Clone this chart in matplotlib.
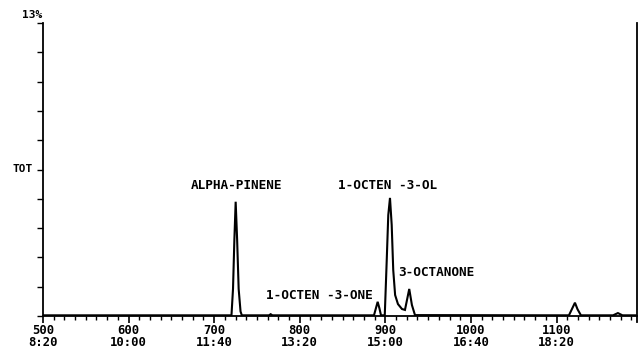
import matplotlib
matplotlib.use("Agg")
import matplotlib.pyplot as plt
import numpy as np

# Chromatogram trace (scan number, % of total)
scan = [500, 720.2, 722.0, 723.6, 725.1, 726.8, 728.6, 730.8, 732.3,
        764, 766, 768,
        886.7, 889.0, 891.0, 893.0, 894.9,
        899.3, 901.6, 903.4, 905.4, 907.4, 909.2, 911.4, 914.7, 919.4, 922.9,
        927.9, 931.0, 934.6,
        1114.5, 1118.5, 1121.5, 1124.5, 1128.5,
        1166, 1171.7, 1177, 1194]
pct = [0.03, 0.03, 1.2, 3.4, 5.07, 3.4, 1.2, 0.2, 0.03,
       0.03, 0.08, 0.03,
       0.03, 0.35, 0.63, 0.35, 0.03,
       0.03, 2.48, 4.48, 5.24, 4.04, 2.04, 0.93, 0.53, 0.31, 0.27,
       1.2, 0.49, 0.04,
       0.03, 0.35, 0.59, 0.3, 0.03,
       0.03, 0.13, 0.03, 0.03]

# Peak annotations: (label, scan position, % height of text)
peak_labels = ["ALPHA-PINENE", "1-OCTEN -3-OL", "3-OCTANONE", "1-OCTEN -3-ONE"]
label_x = [726.0, 903.0, 960.0, 823.0]
label_y = [5.77, 5.77, 1.95, 0.89]

major_ticks = [500, 600, 700, 800, 900, 1000, 1100]
major_labels = ["500\n8:20", "600\n10:00", "700\n11:40", "800\n13:20",
                "900\n15:00", "1000\n16:40", "1100\n18:20"]

font = "DejaVu Sans Mono"

fig = plt.figure(figsize=(6.39, 3.48), dpi=100)
ax = fig.add_axes([43/639, 1-316/348, (637-43)/639, (316-23)/348])
ax.plot(scan, pct, color="black", lw=1.5, solid_joinstyle="miter")
ax.set_xlim(500, 1194)
ax.set_ylim(0, 13)

ax.spines["top"].set_visible(False)
for s in ["left", "bottom", "right"]:
    ax.spines[s].set_linewidth(1.3)
# right axis line runs slightly below the baseline
ax.plot([1, 1], [0, -0.02], transform=ax.transAxes, color="black", lw=1.3,
        clip_on=False)

ax.set_xticks(major_ticks)
ax.set_xticklabels(major_labels, fontfamily=font, fontweight="bold", fontsize=8.8,
                   linespacing=0.92)
ax.set_xticks(np.arange(500, 1194, 12.5), minor=True)
ax.tick_params(axis="x", which="major", direction="out", length=5, width=1.2, pad=0.5)
ax.tick_params(axis="x", which="minor", direction="out", length=3, width=1.0)

yt = np.arange(0, 13.01, 1.3)
ax.set_yticks(yt)
ax.set_yticklabels([""] * len(yt))
ax.tick_params(axis="y", which="major", direction="out", length=4, width=1.0)
ax.tick_params(axis="y", which="minor", left=False)

ax.text(-0.018, 6.5, "TOT", transform=ax.get_yaxis_transform(), ha="right",
        va="center", fontfamily=font, fontweight="bold", fontsize=8)
ax.text(-0.002, 13.15, "13%", transform=ax.get_yaxis_transform(), ha="right",
        va="bottom", fontfamily=font, fontweight="bold", fontsize=8)

for lab, lx, ly in zip(peak_labels, label_x, label_y):
    ax.text(lx, ly, lab, ha="center", va="center", fontfamily=font,
            fontweight="bold", fontsize=9.2)

fig.savefig("out.png", dpi=100)
